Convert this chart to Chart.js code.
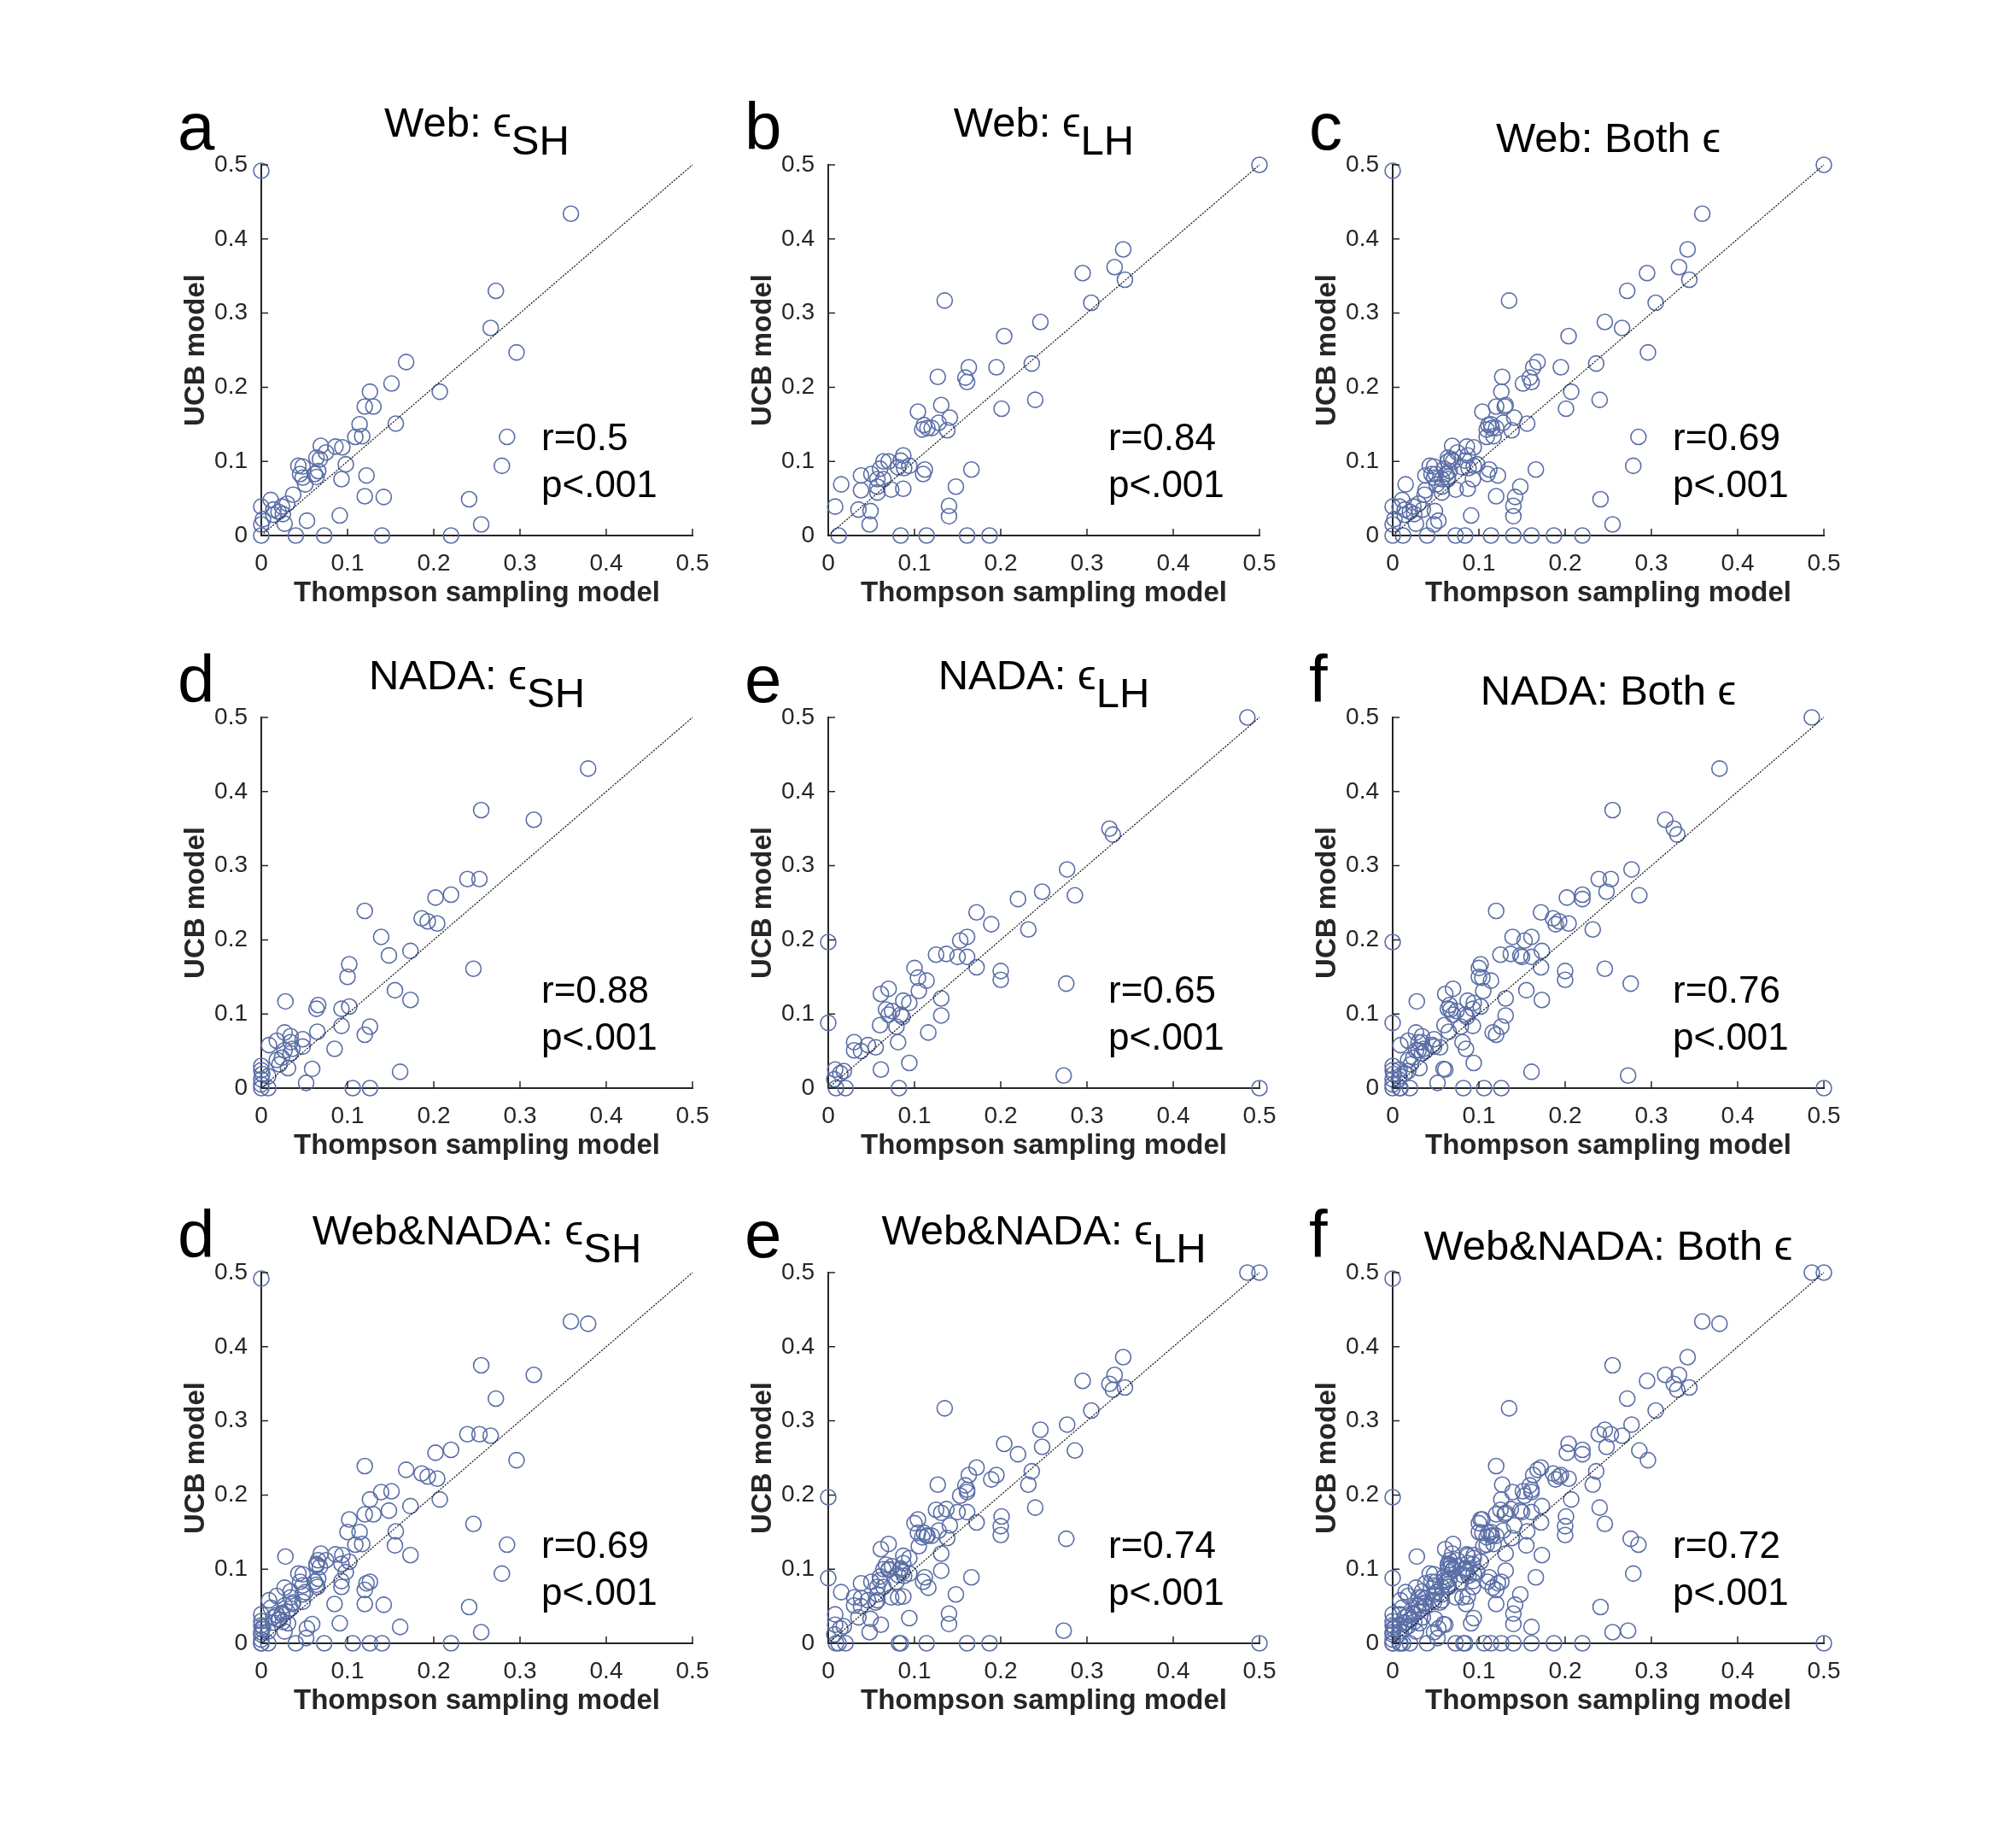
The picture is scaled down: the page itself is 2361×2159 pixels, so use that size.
<!DOCTYPE html>
<html>
<head>
<meta charset="utf-8">
<script src="https://cdn.jsdelivr.net/npm/chart.js@4.4.1/dist/chart.umd.min.js"></script>
<style>
  html, body { margin: 0; padding: 0; background: #fff; }
  #page { position: relative; width: 2361px; height: 2159px; background: #fff; overflow: hidden;
          font-family: "Liberation Sans", Arial, Helvetica, sans-serif; color: #000; }
  canvas { position: absolute; }
  .txt { position: absolute; white-space: nowrap; line-height: 1; }
  .sub { position: relative; }
</style>
</head>
<body>
<div id="page"></div>
<script>
// Web, short horizon (panel a)
const webSH_x = [0, 0.359, 0.272, 0.266, 0.296, 0.168, 0.151, 0.207, 0.126, 0.120, 0.130, 0.156, 0.114, 0.109, 0.117, 0.285, 0.069, 0.086, 0.094, 0.075, 0.064, 0.068, 0.098, 0.043, 0.048, 0.279, 0.066, 0.045, 0.062, 0.122, 0.048, 0.064, 0.093, 0.051, 0.037, 0.120, 0.142, 0.241, 0.011, 0.030, 0, 0.024, 0.014, 0.020, 0.025, 0.091, 0.002, 0.053, 0, 0.027, 0.255, 0, 0.040, 0.073, 0.140, 0.220, 0.014];
const webSH_y = [0.492, 0.434, 0.330, 0.280, 0.247, 0.234, 0.205, 0.194, 0.194, 0.174, 0.174, 0.151, 0.150, 0.133, 0.134, 0.133, 0.121, 0.120, 0.119, 0.112, 0.105, 0.103, 0.096, 0.094, 0.093, 0.094, 0.087, 0.083, 0.083, 0.081, 0.078, 0.079, 0.076, 0.069, 0.055, 0.053, 0.052, 0.049, 0.048, 0.043, 0.039, 0.039, 0.035, 0.032, 0.029, 0.027, 0.022, 0.020, 0.015, 0.016, 0.015, 0, 0, 0, 0, 0, 0.028];

// Web, long horizon (panel b)
const webLH_x = [0.5, 0.342, 0.332, 0.295, 0.344, 0.135, 0.305, 0.246, 0.204, 0.236, 0.163, 0.195, 0.159, 0.161, 0.127, 0.240, 0.201, 0.131, 0.104, 0.141, 0.128, 0.111, 0.109, 0.115, 0.120, 0.138, 0.087, 0.064, 0.070, 0.084, 0.094, 0.081, 0.088, 0.060, 0.112, 0.110, 0.166, 0.050, 0.038, 0.057, 0.064, 0.015, 0.057, 0.038, 0.073, 0.087, 0.148, 0.057, 0.008, 0.140, 0.035, 0.049, 0.140, 0.048, 0.012, 0.084, 0.114, 0.161, 0.187];
const webLH_y = [0.5, 0.386, 0.362, 0.354, 0.345, 0.317, 0.314, 0.288, 0.269, 0.232, 0.227, 0.227, 0.213, 0.207, 0.214, 0.183, 0.171, 0.176, 0.167, 0.159, 0.152, 0.149, 0.143, 0.145, 0.145, 0.142, 0.108, 0.100, 0.100, 0.101, 0.094, 0.092, 0.091, 0.090, 0.089, 0.083, 0.089, 0.083, 0.081, 0.076, 0.076, 0.069, 0.066, 0.061, 0.062, 0.063, 0.066, 0.058, 0.039, 0.040, 0.035, 0.033, 0.026, 0.015, 0, 0, 0, 0, 0];

// NADA, short horizon (panel d)
const nadaSH_x = [0.379, 0.255, 0.316, 0.239, 0.253, 0.202, 0.220, 0.120, 0.186, 0.193, 0.204, 0.139, 0.173, 0.148, 0.102, 0.246, 0.100, 0.155, 0.173, 0.028, 0.066, 0.064, 0.093, 0.102, 0.093, 0.126, 0.120, 0.065, 0.027, 0.034, 0.048, 0.018, 0.034, 0.009, 0.048, 0.036, 0.027, 0.085, 0.034, 0.018, 0.024, 0.021, 0.031, 0.059, 0.161, 0, 0, 0.001, 0.008, 0, 0.052, 0, 0.008, 0.106, 0.126, 0];
const nadaSH_y = [0.431, 0.375, 0.362, 0.282, 0.282, 0.257, 0.261, 0.239, 0.229, 0.225, 0.222, 0.204, 0.185, 0.179, 0.167, 0.161, 0.150, 0.132, 0.119, 0.117, 0.112, 0.107, 0.107, 0.110, 0.084, 0.083, 0.072, 0.076, 0.075, 0.070, 0.066, 0.064, 0.062, 0.058, 0.056, 0.053, 0.051, 0.053, 0.047, 0.038, 0.041, 0.032, 0.027, 0.026, 0.022, 0.030, 0.024, 0.019, 0.016, 0.012, 0.007, 0, 0, 0, 0, 0.005];

// NADA, long horizon (panel e)
const nadaLH_x = [0.486, 0.5, 0.326, 0.330, 0.277, 0.248, 0.286, 0.220, 0.172, 0.189, 0.232, 0, 0.153, 0.161, 0.125, 0.137, 0.150, 0.161, 0.172, 0.100, 0.200, 0.200, 0.104, 0.114, 0.276, 0.070, 0.061, 0.105, 0.131, 0.087, 0.094, 0.067, 0.074, 0.070, 0.084, 0.086, 0.131, 0, 0.060, 0.079, 0.116, 0.030, 0.081, 0.046, 0.055, 0.030, 0.038, 0.094, 0.061, 0.008, 0.018, 0.014, 0.007, 0.273, 0.009, 0.020, 0.082];
const nadaLH_y = [0.5, 0, 0.350, 0.342, 0.295, 0.265, 0.260, 0.255, 0.237, 0.221, 0.214, 0.197, 0.199, 0.204, 0.180, 0.181, 0.177, 0.177, 0.163, 0.162, 0.158, 0.146, 0.149, 0.145, 0.141, 0.134, 0.127, 0.131, 0.121, 0.118, 0.115, 0.106, 0.104, 0.099, 0.099, 0.096, 0.098, 0.088, 0.085, 0.083, 0.075, 0.062, 0.062, 0.058, 0.055, 0.051, 0.050, 0.034, 0.025, 0.025, 0.023, 0.020, 0.012, 0.017, 0, 0, 0];

const diagonal = [0, 0.5];
const panelLetters = ['a', 'b', 'c', 'd', 'e', 'f', 'd', 'e', 'f'];
const rValues = ['0.5', '0.84', '0.69', '0.88', '0.65', '0.76', '0.69', '0.74', '0.72'];
const pText = 'p<.001';
const rowNames = ['Web', 'NADA', 'Web&NADA'];

const markerColor = '#5a6ea6';
const axisColor = '#262626';
const font = '"Liberation Sans", Arial, Helvetica, sans-serif';

// panel geometry (plot area of each axes)
const colX = [306, 970, 1631];
const rowY = [193, 840, 1490];
const plotW = 505, plotH = 434;
const padL = 110, padT = 30, padR = 40, padB = 100;

// each row: SH, LH, both
const rows = [
  [[webSH_x, webSH_y], [webLH_x, webLH_y]],
  [[nadaSH_x, nadaSH_y], [nadaLH_x, nadaLH_y]],
  [[webSH_x.concat(nadaSH_x), webSH_y.concat(nadaSH_y)], [webLH_x.concat(nadaLH_x), webLH_y.concat(nadaLH_y)]]
];

const page = document.getElementById('page');

function addText(html, left, baseline, size, style) {
  const d = document.createElement('div');
  d.className = 'txt';
  d.innerHTML = html;
  d.style.left = left + 'px';
  d.style.top = (baseline - 0.85 * size) + 'px';
  d.style.fontSize = size + 'px';
  if (style) Object.assign(d.style, style);
  page.appendChild(d);
  return d;
}

const innerTicks = {
  id: 'innerTicks',
  afterDraw(chart) {
    const {ctx, chartArea, scales} = chart;
    ctx.save();
    ctx.strokeStyle = axisColor;
    ctx.lineWidth = 1.5;
    ctx.beginPath();
    scales.x.ticks.forEach(t => {
      const px = scales.x.getPixelForValue(t.value);
      ctx.moveTo(px, chartArea.bottom);
      ctx.lineTo(px, chartArea.bottom - 8);
    });
    scales.y.ticks.forEach(t => {
      const py = scales.y.getPixelForValue(t.value);
      ctx.moveTo(chartArea.left, py);
      ctx.lineTo(chartArea.left + 8, py);
    });
    ctx.stroke();
    ctx.restore();
  }
};

function tickLabel(v) {
  return v === 0 ? '0' : Number(v).toFixed(1);
}

function makePanel(row, col) {
  const idx = row * 3 + col;
  let xs, ys;
  if (col < 2) {
    [xs, ys] = rows[row][col];
  } else {
    xs = rows[row][0][0].concat(rows[row][1][0]);
    ys = rows[row][0][1].concat(rows[row][1][1]);
  }
  const x0 = colX[col], yTop = rowY[row];

  const canvas = document.createElement('canvas');
  canvas.width = padL + plotW + padR;
  canvas.height = padT + plotH + padB;
  canvas.style.left = (x0 - padL) + 'px';
  canvas.style.top = (yTop - padT) + 'px';
  page.appendChild(canvas);

  new Chart(canvas, {
    type: 'scatter',
    data: {
      datasets: [{
        data: diagonal.map(v => ({x: v, y: v})),
        showLine: true,
        borderColor: '#111',
        borderWidth: 1.2,
        borderDash: [2, 1.5],
        pointRadius: 0,
        clip: false
      }, {
        data: xs.map((x, i) => ({x: x, y: ys[i]})),
        pointRadius: 9,
        pointHoverRadius: 9,
        borderColor: markerColor,
        backgroundColor: 'rgba(0,0,0,0)',
        borderWidth: 1.6,
        clip: false
      }]
    },
    options: {
      responsive: false,
      animation: false,
      events: [],
      layout: { padding: { left: 0, top: padT, right: padR, bottom: 0 } },
      plugins: { legend: { display: false }, tooltip: { enabled: false } },
      scales: {
        x: {
          type: 'linear', min: 0, max: 0.5,
          grid: { display: false },
          border: { color: axisColor, width: 2 },
          ticks: { stepSize: 0.1, padding: 8, color: axisColor, font: { family: font, size: 28 }, callback: tickLabel, maxRotation: 0 },
          title: { display: true, text: 'Thompson sampling model', color: axisColor,
                   font: { family: font, size: 33, weight: 'bold' }, padding: { top: 0, bottom: 12 } },
          afterFit: s => { s.height = padB; }
        },
        y: {
          type: 'linear', min: 0, max: 0.5,
          grid: { display: false },
          border: { color: axisColor, width: 2 },
          ticks: { stepSize: 0.1, padding: 8, color: axisColor, font: { family: font, size: 28 }, callback: tickLabel },
          title: { display: true, text: 'UCB model', color: axisColor,
                   font: { family: font, size: 33, weight: 'bold' }, padding: { top: 14, bottom: 0 } },
          afterFit: s => { s.width = padL; }
        }
      }
    },
    plugins: [innerTicks]
  });

  // panel letter
  addText(panelLetters[idx], x0 - 98, yTop - 18, 78);

  // title
  const name = rowNames[row];
  let title, baseline;
  if (col === 0) { title = name + ': \u03F5<span class="sub" style="top:21px">SH</span>'; baseline = yTop - 32; }
  else if (col === 1) { title = name + ': \u03F5<span class="sub" style="top:21px">LH</span>'; baseline = yTop - 32; }
  else { title = name + ': Both \u03F5'; baseline = yTop - 14; }
  addText(title, x0, baseline, 49, { width: plotW + 'px', textAlign: 'center' });

  // statistics
  addText('r=' + rValues[idx], x0 + 328, yTop + plotH - 100, 44);
  addText(pText.replace('<', '&lt;'), x0 + 328, yTop + plotH - 45, 44);
}

for (let r = 0; r < 3; r++) {
  for (let c = 0; c < 3; c++) makePanel(r, c);
}
</script>
</body>
</html>
